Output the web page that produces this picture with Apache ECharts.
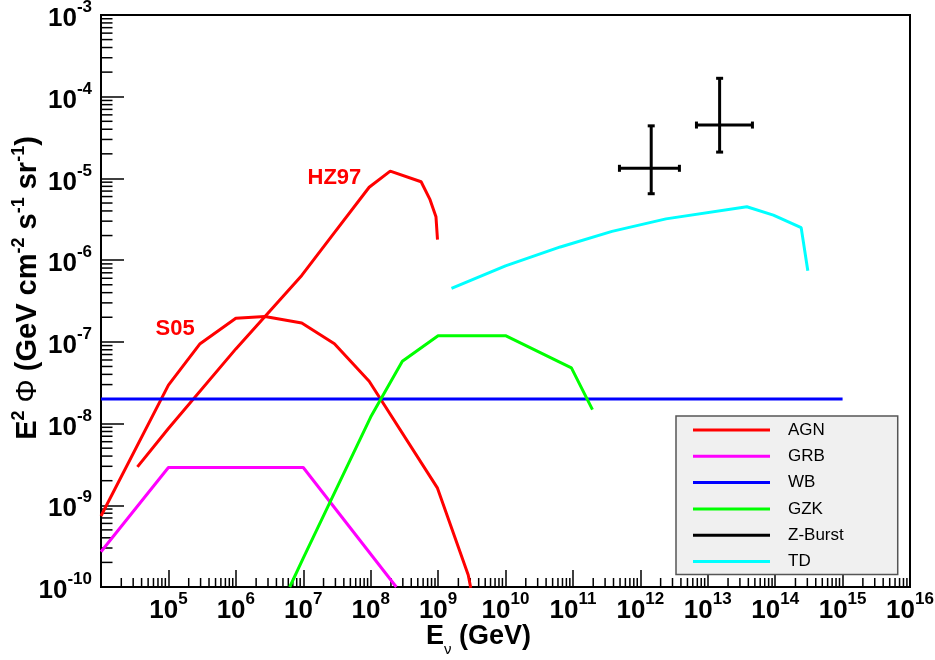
<!DOCTYPE html>
<html><head><meta charset="utf-8">
<script src="https://cdn.jsdelivr.net/npm/echarts@6/dist/echarts.min.js"></script>
<style>html,body{margin:0;padding:0;background:#fff}#c{width:935px;height:660px}</style>
</head><body><div id="c"></div>
<script>
// ---------- data (E in GeV, E^2 Phi in GeV cm^-2 s^-1 sr^-1) ----------
const s05E  = [1e4, 1e5, 2.95e5, 1e6, 2.7e6, 9.5e6, 2.9e7, 9.5e7, 9.8e8, 2.8e9, 3.05e9];
const s05F  = [7.4e-10, 2.95e-8, 9.5e-8, 1.95e-7, 2.04e-7, 1.7e-7, 9.5e-8, 3.3e-8, 1.62e-9, 1.4e-10, 9.8e-11];
const hz97E = [3.47e4, 1e5, 1e6, 9.5e6, 2.75e7, 9.5e7, 1.95e8, 5.6e8, 7.6e8, 9.3e8, 9.8e8];
const hz97F = [2.95e-9, 8.7e-9, 8.2e-8, 6.5e-7, 2.05e-6, 7.8e-6, 1.23e-5, 9.1e-6, 5.5e-6, 3.4e-6, 1.78e-6];
const grbE  = [1e4, 1e5, 1e7, 2.4e8];
const grbF  = [2.7e-10, 2.9e-9, 2.9e-9, 1e-10];
const wbE   = [1e4, 1e15];
const wbF   = [2e-8, 2e-8];
const gzkE  = [6.3e6, 1e7, 1e8, 2.95e8, 1e9, 1e10, 9.5e10, 1.95e11];
const gzkF  = [1e-10, 2.25e-10, 1.2e-8, 5.8e-8, 1.19e-7, 1.19e-7, 4.8e-8, 1.48e-8];
const tdE   = [1.58e9, 1e10, 6.5e10, 3.8e11, 2.4e12, 3.8e13, 9.4e13, 2.43e14, 3.05e14];
const tdF   = [4.5e-7, 8.5e-7, 1.45e-6, 2.25e-6, 3.2e-6, 4.5e-6, 3.55e-6, 2.5e-6, 7.4e-7];
const zbE     = [1.45e12, 1.5e13];
const zbF     = [1.33e-5, 4.5e-5];
const zbELow  = [4.9e11, 6.8e12];
const zbEHigh = [3.8e12, 4.6e13];
const zbFLow  = [6.5e-6, 2.1e-5];
const zbFHigh = [4.4e-5, 1.68e-4];
const noteText = ['HZ97', 'S05'];
const noteE    = [2.9e7, 1.26e5];
const noteF    = [1.01e-5, 1.43e-7];
// axes
const xMin = 1e4, xMax = 1e16, yMin = 1e-10, yMax = 1e-3;
const xMajorTicks = [1e4,1e5,1e6,1e7,1e8,1e9,1e10,1e11,1e12,1e13,1e14,1e15,1e16];
const xLabelValues = [1e5,1e6,1e7,1e8,1e9,1e10,1e11,1e12,1e13,1e14,1e15,1e16];
const yMajorTicks = [1e-10,1e-9,1e-8,1e-7,1e-6,1e-5,1e-4,1e-3];
const minorMultipliers = [2,3,4,5,6,7,8,9];

const xMinor = [];
for (let d = 4; d < 16; d++) minorMultipliers.forEach(m => xMinor.push([m * Math.pow(10, d), yMin]));
const yMinor = [];
for (let d = -10; d < -3; d++) minorMultipliers.forEach(m => yMinor.push([xMin, m * Math.pow(10, d)]));

const FONT = 'Liberation Sans, Arial, sans-serif';
const zip = (a, b) => a.map((v, i) => [v, b[i]]);

function expLabel(v) {
  const e = Math.round(Math.log10(v));
  return '{b|10}{s|' + e + '}';
}
const labelRich = {
  b: {fontFamily: FONT, fontWeight: 'bold', fontSize: 26, color: '#000', lineHeight: 40},
  s: {fontFamily: FONT, fontWeight: 'bold', fontSize: 17, color: '#000', lineHeight: 16, verticalAlign: 'top'}
};

function lineSeries(name, E, F, color) {
  return {
    type: 'line', name: name, data: zip(E, F), symbol: 'none', showSymbol: false,
    color: color, itemStyle: {color: color},
    lineStyle: {color: color, width: 3}, clip: true, animation: false,
    emphasis: {disabled: true}, z: 3
  };
}

const chart = echarts.init(document.getElementById('c'), null, {renderer: 'canvas'});
const option = {
  animation: false,
  backgroundColor: '#fff',
  grid: {left: 101, right: 25, top: 15, bottom: 73, show: true, borderColor: '#000', borderWidth: 2,
         backgroundColor: 'transparent', containLabel: false, outerBoundsMode: 'none'},
  legend: {
    orient: 'vertical', left: 676, top: 416,
    data: ['AGN', 'GRB', 'WB', 'GZK', 'Z-Burst', 'TD'],
    icon: 'rect', itemWidth: 77, itemHeight: 3, itemGap: 6.3,
    padding: [4, 54, 3, 17],
    backgroundColor: '#f0f0f0', borderColor: '#555', borderWidth: 1.5, borderRadius: 0,
    selectedMode: false,
    textStyle: {fontFamily: FONT, fontSize: 17, color: '#000', lineHeight: 20, padding: [0, 0, 0, 13]}
  },
  xAxis: {
    type: 'log', logBase: 10, min: xMin, max: xMax,
    name: '{b|E}{sub|ν}{b| (GeV)}', nameLocation: 'middle', nameGap: 30, nameMoveOverlap: false,
    nameTextStyle: {padding: [0, 54, 0, 0], rich: {
      b: {fontFamily: FONT, fontWeight: 'bold', fontSize: 27, color: '#000', lineHeight: 40},
      sub: {fontFamily: FONT, fontWeight: 'normal', fontSize: 15, color: '#000', lineHeight: 12, verticalAlign: 'bottom'}
    }},
    axisLine: {show: true, lineStyle: {color: '#000', width: 2}},
    axisTick: {show: true, inside: true, length: 17, lineStyle: {color: '#000', width: 1.5}, customValues: xMajorTicks},
    minorTick: {show: false},
    splitLine: {show: false}, minorSplitLine: {show: false},
    axisLabel: {show: true, margin: 4, formatter: expLabel, rich: labelRich, customValues: xLabelValues,
                showMinLabel: true, showMaxLabel: true, hideOverlap: false}
  },
  yAxis: {
    type: 'log', logBase: 10, min: yMin, max: yMax,
    name: '{b|E}{sup|2}{b| }{phi|Φ}{b| (GeV cm}{sup|-2}{b| s}{sup|-1}{b| sr}{sup|-1}{b|)}',
    nameLocation: 'middle', nameRotate: 90, nameGap: 55, nameMoveOverlap: false,
    nameTextStyle: {padding: [0, 0, 0, 26], rich: {
      b: {fontFamily: FONT, fontWeight: 'bold', fontSize: 29, color: '#000', lineHeight: 36},
      phi: {fontFamily: FONT, fontWeight: 'normal', fontSize: 29, color: '#000', lineHeight: 36},
      sup: {fontFamily: FONT, fontWeight: 'bold', fontSize: 18, color: '#000', lineHeight: 18, verticalAlign: 'top'}
    }},
    axisLine: {show: true, lineStyle: {color: '#000', width: 2}},
    axisTick: {show: true, inside: true, length: 23, lineStyle: {color: '#000', width: 1.5}, customValues: yMajorTicks},
    minorTick: {show: false},
    splitLine: {show: false}, minorSplitLine: {show: false},
    axisLabel: {show: true, margin: 9, formatter: expLabel, rich: labelRich, customValues: yMajorTicks,
                padding: [8, 0, 0, 0], showMinLabel: true, showMaxLabel: true, hideOverlap: false}
  },
  series: [
    {
      type: 'custom', name: 'xMinorTicks', data: xMinor, silent: true, animation: false, clip: false, z: 1,
      renderItem: function (params, api) {
        const p = api.coord([api.value(0), api.value(1)]);
        return {type: 'line', shape: {x1: p[0], y1: p[1], x2: p[0], y2: p[1] - 9}, style: {stroke: '#000', lineWidth: 1.5}};
      }
    },
    {
      type: 'custom', name: 'yMinorTicks', data: yMinor, silent: true, animation: false, clip: false, z: 1,
      renderItem: function (params, api) {
        const p = api.coord([api.value(0), api.value(1)]);
        return {type: 'line', shape: {x1: p[0], y1: p[1], x2: p[0] + 11.5, y2: p[1]}, style: {stroke: '#000', lineWidth: 1.5}};
      }
    },
    lineSeries('AGN', s05E, s05F, '#ff0000'),
    lineSeries('AGN', hz97E, hz97F, '#ff0000'),
    lineSeries('GRB', grbE, grbF, '#ff00ff'),
    lineSeries('WB', wbE, wbF, '#0000ff'),
    lineSeries('GZK', gzkE, gzkF, '#00ff00'),
    {
      type: 'custom', name: 'Z-Burst', color: '#000', itemStyle: {color: '#000'}, animation: false, clip: true, z: 4,
      data: zbE.map((e, i) => [e, zbF[i], zbELow[i], zbEHigh[i], zbFLow[i], zbFHigh[i]]),
      encode: {x: [0, 2, 3], y: [1, 4, 5]},
      renderItem: function (params, api) {
        const c = api.coord([api.value(0), api.value(1)]);
        const xl = api.coord([api.value(2), api.value(1)]);
        const xh = api.coord([api.value(3), api.value(1)]);
        const yl = api.coord([api.value(0), api.value(4)]);
        const yh = api.coord([api.value(0), api.value(5)]);
        const st = {stroke: '#000', lineWidth: 3};
        const k = 3.5;
        return {type: 'group', children: [
          {type: 'line', shape: {x1: xl[0], y1: c[1], x2: xh[0], y2: c[1]}, style: st},
          {type: 'line', shape: {x1: c[0], y1: yl[1], x2: c[0], y2: yh[1]}, style: st},
          {type: 'line', shape: {x1: xl[0], y1: c[1] - k, x2: xl[0], y2: c[1] + k}, style: st},
          {type: 'line', shape: {x1: xh[0], y1: c[1] - k, x2: xh[0], y2: c[1] + k}, style: st},
          {type: 'line', shape: {x1: c[0] - k, y1: yl[1], x2: c[0] + k, y2: yl[1]}, style: st},
          {type: 'line', shape: {x1: c[0] - k, y1: yh[1], x2: c[0] + k, y2: yh[1]}, style: st}
        ]};
      }
    },
    lineSeries('TD', tdE, tdF, '#00ffff'),
    {
      type: 'scatter', name: 'notes', symbolSize: 0, silent: true, animation: false, z: 5,
      itemStyle: {opacity: 1, color: '#ff0000'},
      data: noteText.map((t, i) => ({name: t, value: [noteE[i], noteF[i]]})),
      label: {show: true, position: 'inside', formatter: '{b}', color: '#ff0000', opacity: 1,
              textBorderWidth: 0, textBorderColor: 'transparent',
              fontFamily: FONT, fontWeight: 'bold', fontSize: 22}
    }
  ]
};
chart.setOption(option);
</script>
</body></html>
